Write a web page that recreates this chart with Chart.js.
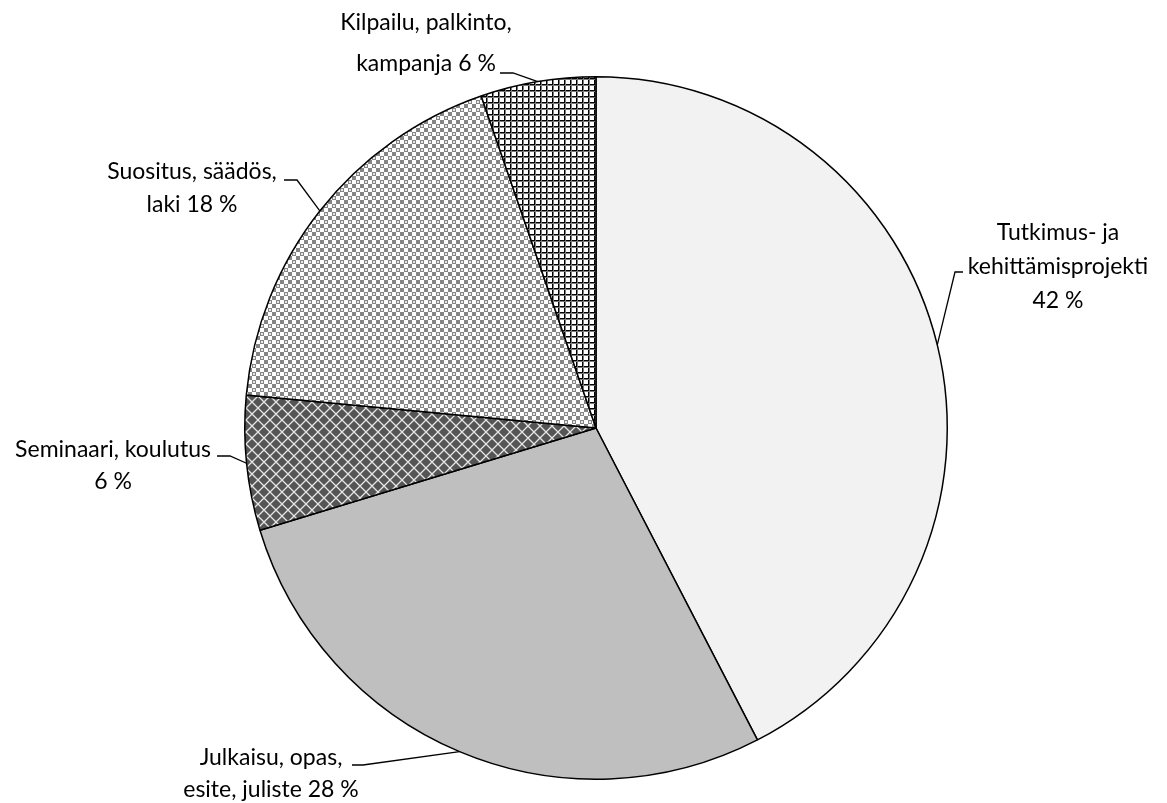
<!DOCTYPE html>
<html>
<head>
<meta charset="utf-8">
<title>Pie</title>
<script src="https://cdn.jsdelivr.net/npm/chart.js@4.4.1/dist/chart.umd.min.js"></script>
<style>
    html, body { margin: 0; padding: 0; background: #ffffff; }
    #wrap { width: 1167px; height: 803px; }
</style>
</head>
<body>
<div id="wrap"><canvas id="chartPie" width="1167" height="803"></canvas></div>
<script>
// Slices, clockwise from 12 o'clock
const categories = [
    ['Tutkimus- ja', 'kehittämisprojekti'],
    ['Julkaisu, opas,', 'esite, juliste'],
    ['Seminaari, koulutus'],
    ['Suositus, säädös,', 'laki'],
    ['Kilpailu, palkinto,', 'kampanja']
];
const shares = [42.4, 27.9, 6.2, 18.2, 5.3];
const shownPercents = [42, 28, 6, 18, 6];

// Label text lines (percentage appended to last line or on its own line)
function labelLines(i) {
    const lines = categories[i].slice();
    const pct = shownPercents[i] + ' %';
    if (i === 0 || i === 2) {
        lines.push(pct);
    } else {
        lines[lines.length - 1] += ' ' + pct;
    }
    return lines;
}

// Where each label block sits and where its leader bends
const labelLayout = [
    { x: 1058, y: 233, gap: 34, elbowX: 955, elbowY: 272, tailX: 963 },
    { x: 271, y: 758, gap: 32, elbowX: 363, elbowY: 765, tailX: 352 },
    { x: 113, y: 450, gap: 32, elbowX: 230, elbowY: 456, tailX: 217 },
    { x: 192, y: 172, gap: 33, elbowX: 297, elbowY: 180, tailX: 284 },
    { x: 426, y: 23, gap: 41, elbowX: 513, elbowY: 73, tailX: 500 }
];

function makePattern(size, draw) {
    const c = document.createElement('canvas');
    c.width = size;
    c.height = size;
    const g = c.getContext('2d');
    draw(g, size);
    return g.createPattern(c, 'repeat');
}

const gridPattern = makePattern(6, (g, s) => {
    g.fillStyle = '#ffffff';
    g.fillRect(0, 0, s, s);
    g.fillStyle = '#000000';
    g.fillRect(0, 0, s, 1);
    g.fillRect(0, 0, 1, s);
    g.fillStyle = '#7a7a7a';
    g.fillRect(0, 1, s, 1);
    g.fillRect(1, 0, 1, s);
});

const diamondPattern = makePattern(12, (g, s) => {
    g.fillStyle = '#555555';
    g.fillRect(0, 0, s, s);
    g.strokeStyle = '#e6e6e6';
    g.lineWidth = 1.3;
    g.beginPath();
    g.moveTo(0, s / 2);
    g.lineTo(s / 2, 0);
    g.lineTo(s, s / 2);
    g.lineTo(s / 2, s);
    g.closePath();
    g.stroke();
});

const checkPattern = makePattern(8, (g, s) => {
    g.fillStyle = '#ffffff';
    g.fillRect(0, 0, s, s);
    g.fillStyle = '#858585';
    g.fillRect(0, 0, 4, 4);
    g.fillRect(4, 4, 4, 4);
    g.fillStyle = '#e8e8e8';
    g.fillRect(5, 5, 2, 2);
});

const sliceFills = ['#f2f2f2', '#bfbfbf', diamondPattern, checkPattern, gridPattern];

const labelPlugin = {
    id: 'calloutLabels',
    afterDatasetsDraw(chart) {
        const ctx = chart.ctx;
        const arcs = chart.getDatasetMeta(0).data;
        ctx.save();
        ctx.font = '23px Lato, "Open Sans", sans-serif';
        ctx.fillStyle = '#000000';
        ctx.textAlign = 'center';
        ctx.textBaseline = 'middle';
        arcs.forEach((arc, i) => {
            const p = arc.getProps(['x', 'y', 'startAngle', 'endAngle', 'outerRadius'], true);
            const mid = (p.startAngle + p.endAngle) / 2;
            const ax = p.x + Math.cos(mid) * p.outerRadius;
            const ay = p.y + Math.sin(mid) * p.outerRadius;
            const lay = labelLayout[i];

            ctx.strokeStyle = '#000000';
            ctx.lineWidth = 1.3;
            ctx.beginPath();
            ctx.moveTo(ax, ay);
            ctx.lineTo(lay.elbowX, lay.elbowY);
            ctx.lineTo(lay.tailX, lay.elbowY);
            ctx.stroke();

            labelLines(i).forEach((line, k) => {
                ctx.fillText(line, lay.x, lay.y + k * lay.gap);
            });
        });
        ctx.restore();
    }
};

const chart = new Chart(document.getElementById('chartPie'), {
    type: 'pie',
    data: {
        labels: categories.map(c => c.join(' ')),
        datasets: [{
            data: shares,
            backgroundColor: sliceFills,
            borderColor: '#000000',
            borderWidth: 1.5
        }]
    },
    options: {
        responsive: false,
        animation: false,
        layout: {
            padding: { top: 76, bottom: 23, left: 100, right: 75 }
        },
        plugins: {
            legend: { display: false },
            tooltip: { enabled: false }
        }
    },
    plugins: [labelPlugin]
});
</script>
</body>
</html>
